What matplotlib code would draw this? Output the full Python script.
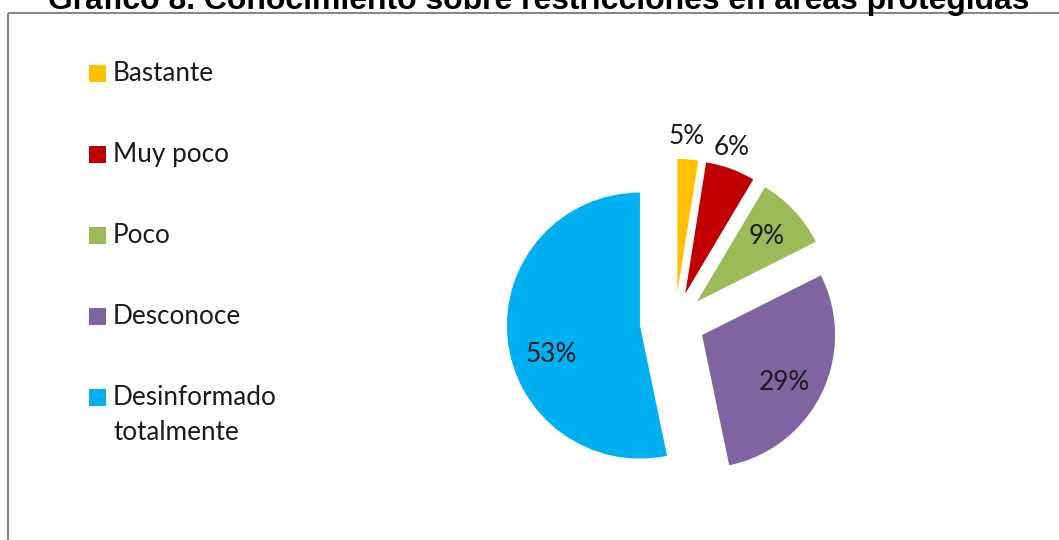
import matplotlib
matplotlib.use('Agg')
import matplotlib.pyplot as plt
import numpy as np
from matplotlib.patches import Rectangle

# ---------------- data ----------------
categories = ["Bastante", "Muy poco", "Poco", "Desconoce", "Desinformado\ntotalmente"]
values = [2.5, 6, 9, 29, 53]
pct_labels = ["5%", "6%", "9%", "29%", "53%"]
title = "Gráfico 8. Conocimiento sobre restricciones en áreas protegidas"

# ---------------- style ----------------
colors = ["#FFC000", "#C00000", "#9BBB59", "#8064A2", "#00B0F0"]
explode = [0.226, 0.226, 0.226, 0.226, 0.265]
label_dist = [1.40, 1.38, 0.94, 0.94, 0.96]
label_shift = [1, 2, 0, -3, 9]
FONT = ["Lato", "DejaVu Sans"]
LBL_SIZE = 18.8

W, H = 1059, 540
fig = plt.figure(figsize=(W / 100, H / 100), dpi=100)
fig.patch.set_facecolor("white")

# overlay axes in pixel coordinates for frame, title and legend
ov = fig.add_axes([0, 0, 1, 1])
ov.set_xlim(0, W)
ov.set_ylim(H, 0)
ov.axis("off")

# chart frame (partially outside the image)
ov.plot([8.3, W + 5], [13.3, 13.3], color="#878787", lw=1.5, solid_capstyle="butt")
ov.plot([8.3, 8.3], [13.3, H + 5], color="#878787", lw=1.5, solid_capstyle="butt")

# title (cropped at the top in the reference)
t = ov.text(539, 8.7, title, ha="center", va="baseline",
            family=["Liberation Sans", "DejaVu Sans"], fontweight="bold", fontsize=20)
fig.canvas.draw()
bb = t.get_window_extent()
t.set_fontsize(20 * 982 / bb.width)

# pie
cx, cy, R = 675, 322, 133
lim = 1.5
ax = fig.add_axes([(cx - lim * R) / W, 1 - (cy + lim * R) / H, 2 * lim * R / W, 2 * lim * R / H])
wedges, _ = ax.pie(values, colors=colors, startangle=90, counterclock=False,
                   explode=explode, radius=1, wedgeprops=dict(linewidth=0))
ax.set_xlim(-lim, lim)
ax.set_ylim(-lim, lim)
ax.axis("off")

for w, lab, d, s in zip(wedges, pct_labels, label_dist, label_shift):
    mid = np.deg2rad((w.theta1 + w.theta2) / 2 + s)
    ax.text(d * np.cos(mid), d * np.sin(mid), lab, ha="center", va="center",
            family=FONT, fontsize=LBL_SIZE, color="#1a1a1a", clip_on=False)

# legend
leg_x, leg_y0, leg_dy, sq = 88.5, 73.5, 81, 17.5
line_h = 35
for i, (cat, col) in enumerate(zip(categories, colors)):
    yc = leg_y0 + i * leg_dy
    ov.add_patch(Rectangle((leg_x, yc - sq / 2), sq, sq, facecolor=col, edgecolor="none"))
    for k, line in enumerate(cat.split("\n")):
        ov.text(113, yc + k * line_h, line, ha="left", va="center",
                family=FONT, fontsize=LBL_SIZE, color="#1a1a1a")

fig.savefig("out.png", dpi=100, facecolor="white")
